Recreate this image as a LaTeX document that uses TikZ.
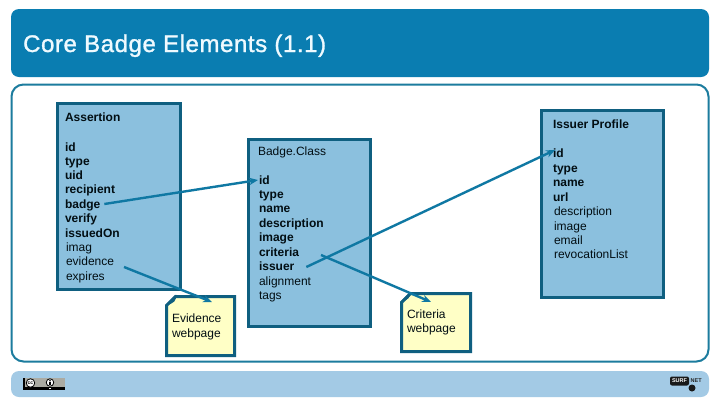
\documentclass[tikz,border=0pt]{standalone}
\usepackage{fontspec}
\setmainfont{Liberation Sans}
\usetikzlibrary{arrows.meta}
\definecolor{headblue}{HTML}{0A7DB1}
\definecolor{panelline}{HTML}{1C7C9E}
\definecolor{boxfill}{HTML}{8BC0DE}
\definecolor{boxline}{HTML}{0F5F80}
\definecolor{footfill}{HTML}{A3CAE5}
\definecolor{notefill}{HTML}{FFFFC6}
\definecolor{arrowblue}{HTML}{0F78A3}
\definecolor{ccgray}{HTML}{ABABA3}
\definecolor{titlewhite}{HTML}{EFFAFF}
\tikzset{
  x=1pt,y=-1pt,
  band/.style={fill=#1,draw=none,rounded corners=8pt,inner sep=0,outer sep=0},
  umlbox/.style={draw=boxline,fill=boxfill,line width=3pt,inner sep=0,outer sep=0},
  noteshape/.style={draw=boxline,fill=notefill,line width=3pt,line join=miter},
  noteanchor/.style={inner sep=0,outer sep=0},
  reg/.style={anchor=west,inner sep=0,outer sep=0,text height=10pt,text depth=2pt,font=\fontsize{12}{14}\selectfont,text=black!85!boxline},
  req/.style={reg,font=\fontsize{12}{14}\selectfont\bfseries},
  link/.style={draw=arrowblue,line width=2.4pt,-{Stealth[length=9pt,width=7.5pt]}},
  fold/.style={fill=boxline,draw=none},
}
\begin{document}
\begin{tikzpicture}
\useasboundingbox (0,0) rectangle (720,405);
\fill[white] (0,0) rectangle (720,405);
% bands
\node[band=headblue,minimum width=698pt,minimum height=68pt] (head) at (360,43) {};
\node[band=footfill,minimum width=698pt,minimum height=26pt] (foot) at (360,384) {};
\node[draw=panelline,line width=2pt,fill=white,rounded corners=12pt,inner sep=0,outer sep=0,minimum width=697pt,minimum height=277pt] (panel) at (360,223) {};
\node[anchor=west,inner sep=0,text=titlewhite,text height=17pt,text depth=5pt,font=\fontsize{24}{28}\selectfont\addfontfeatures{LetterSpace=2.4,FakeBold=1.2}] (title) at (23,46) {Core Badge Elements (1.1)};
% boxes
\node[umlbox,minimum width=123pt,minimum height=186pt] (assertion) at (119,196.5) {};
\node[umlbox,minimum width=122pt,minimum height=187pt] (badgeclass) at (309,233) {};
\node[umlbox,minimum width=122pt,minimum height=187pt] (issuer) at (602.5,204) {};
% notes
\node[noteanchor,minimum width=68pt,minimum height=59pt] (noteE) at (200.5,326) {};
\node[noteanchor,minimum width=69pt,minimum height=58pt] (noteC) at (436,322.5) {};
\draw[noteshape] ([yshift=-9pt]noteE.north west) -- ([xshift=9pt]noteE.north west) -- (noteE.north east) -- (noteE.south east) -- (noteE.south west) -- cycle;
\draw[noteshape] ([yshift=-9pt]noteC.north west) -- ([xshift=9pt]noteC.north west) -- (noteC.north east) -- (noteC.south east) -- (noteC.south west) -- cycle;
\fill[fold] (165,305.5) -- (176,294.5) .. controls (177,300) and (174,304) .. (165,305.5) -- cycle;
\fill[fold] (400,302) -- (410,292) .. controls (411,297) and (408,300.5) .. (400,302) -- cycle;
% Assertion
\node[req] (aT) at (65,117) {Assertion};
\node[req] (aId) at (65,147) {id};
\node[req] (aType) at (65,161) {type};
\node[req] (aUid) at (65,175) {uid};
\node[req] (aRec) at (65,189) {recipient};
\node[req] (aBadge) at (65,204) {badge};
\node[req] (aVerify) at (65,218) {verify};
\node[req] (aIssued) at (65,233) {issuedOn};
\node[reg] (aImag) at (66,247) {imag};
\node[reg] (aEvid) at (66,261.5) {evidence};
\node[reg] (aExp) at (66,276) {expires};
% BadgeClass
\node[req,font=\fontsize{12}{14}\selectfont] (bT) at (258,151) {Badge.Class};
\node[req] (bId) at (259,180) {id};
\node[req] (bType) at (259,194) {type};
\node[req] (bName) at (259,208.5) {name};
\node[req] (bDesc) at (259,223) {description};
\node[req] (bImage) at (259,237.5) {image};
\node[req] (bCrit) at (259,252) {criteria};
\node[req] (bIssuer) at (259,266.5) {issuer};
\node[reg] (bAlign) at (259,281) {alignment};
\node[reg] (bTags) at (259,295.5) {tags};
% Issuer
\node[req] (iT) at (553,124) {Issuer Profile};
\node[req] (iId) at (553,153.5) {id};
\node[req] (iType) at (553,168) {type};
\node[req] (iName) at (553,182.5) {name};
\node[req] (iUrl) at (553,197) {url};
\node[reg] (iDesc) at (554,211.5) {description};
\node[reg] (iImage) at (554,226) {image};
\node[reg] (iEmail) at (554,240.5) {email};
\node[reg] (iRev) at (554,254.5) {revocationList};
% note text
\node[reg] (nE1) at (172,318.5) {Evidence};
\node[reg] (nE2) at (172,333) {webpage};
\node[reg] (nC1) at (407,314.5) {Criteria};
\node[reg] (nC2) at (407,328.5) {webpage};
% connectors
\draw[link] ([xshift=4pt]aBadge.east) -- ([xshift=-1pt]bId.west);
\draw[link] ([xshift=10pt,yshift=-5.5pt]aEvid.east) -- ([shift={(11.5,-24)}]noteE.center);
\draw[link] ([xshift=12pt,yshift=-0.5pt]bIssuer.east) -- ([xshift=2pt,yshift=3.5pt]iId.west);
\draw[link] ([xshift=22pt,yshift=-3pt]bCrit.east) -- ([shift={(-5,-20.5)}]noteC.center);
% cc badge
\node[fill=ccgray,inner sep=0,outer sep=0,minimum width=42pt,minimum height=12pt] (cc) at (44,384) {};
\fill[black] (23,378) rectangle (25,390);
\fill[black] (23,387) rectangle (65,390);
\fill[white] (49,388) rectangle (51,389);
\node[circle,draw=black,line width=.8pt,fill=white,inner sep=0,minimum size=8.5pt,font=\fontsize{5}{5}\selectfont\bfseries] (ccicon) at (30.5,383) {cc};
\node[circle,draw=black,line width=.8pt,fill=white,inner sep=0,minimum size=7.5pt] (byicon) at (50,382.5) {};
\fill[black] (50,380.8) circle (.9pt);
\fill[black] (48.9,382.3) rectangle (51.1,385);
% logo
\node[fill=black!90,text=white,rounded corners=2pt,inner sep=0,outer sep=0,minimum width=19pt,minimum height=9pt,font=\fontsize{5.5}{6}\selectfont\bfseries] (surf) at (679.5,381) {SURF};
\node[inner sep=0,anchor=west,text=black!85,font=\fontsize{5.5}{6}\selectfont\bfseries] (net) at (690.5,381) {NET};
\fill[black!90] (692,388) circle (3.5pt);
\end{tikzpicture}
\end{document}
